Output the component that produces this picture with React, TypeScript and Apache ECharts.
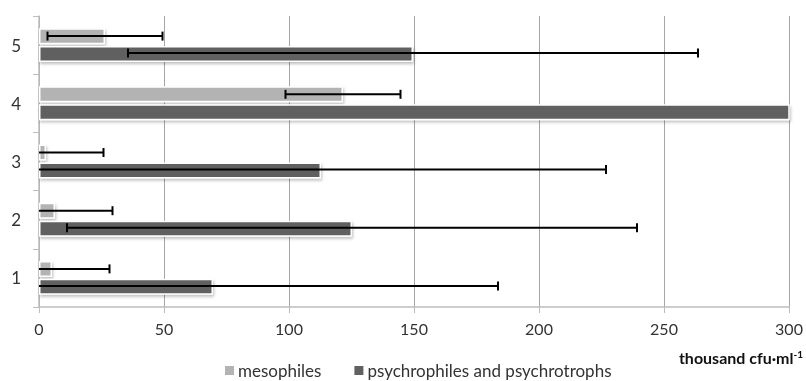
import React, { useEffect, useRef } from "react";
import * as echarts from "echarts";

const categories = ["1", "2", "3", "4", "5"];
const mesophiles = [5.2, 6.4, 2.8, 121.6, 26.4];
const mesophilesErr = [23, 23, 23, 23, 23];
const psychro = [69.6, 125.2, 112.8, 305, 149.6];
const psychroErr = [114, 114, 114, 0, 114];
const xTicks = [0, 50, 100, 150, 200, 250, 300];

const FONT = "Lato, 'Open Sans', sans-serif";

function errorSeries(name: string, means: number[], errs: number[], offset: number) {
  return {
    type: "custom",
    name: name + "_err",
    silent: true,
    z: 10,
    data: means.map((m, i) => [i, m, errs[i]]),
    renderItem: (params: any, api: any) => {
      const idx = api.value(0);
      const mean = api.value(1);
      const err = api.value(2);
      if (!err) return null;
      const lo = Math.max(0, mean - err);
      const hi = Math.min(300, mean + err);
      const p0 = api.coord([lo, idx]);
      const p1 = api.coord([hi, idx]);
      const y = p0[1] + offset;
      const cap = 4.5;
      const children: any[] = [
        { type: "line", shape: { x1: p0[0], y1: y, x2: p1[0], y2: y }, style: { stroke: "#000", lineWidth: 2 } },
      ];
      if (mean - err > 0) {
        children.push({ type: "line", shape: { x1: p0[0], y1: y - cap, x2: p0[0], y2: y + cap }, style: { stroke: "#000", lineWidth: 2 } });
      }
      if (mean + err < 300) {
        children.push({ type: "line", shape: { x1: p1[0], y1: y - cap, x2: p1[0], y2: y + cap }, style: { stroke: "#000", lineWidth: 2 } });
      }
      return { type: "group", children };
    },
  };
}

export default function App() {
  const ref = useRef<HTMLDivElement>(null);
  useEffect(() => {
    if (!ref.current) return;
    const chart = echarts.init(ref.current, null, { renderer: "svg" });
    const barStyle = (color: string) => ({
      color,
      borderColor: "#ffffff",
      borderWidth: 1.5,
      shadowColor: "rgba(0,0,0,0.25)",
      shadowBlur: 3,
      shadowOffsetX: 1,
      shadowOffsetY: 2,
    });
    chart.setOption({
      animation: false,
      textStyle: { fontFamily: FONT },
      grid: { left: 39, right: 17, top: 16, bottom: 74 },
      legend: {
        data: ["mesophiles", "psychrophiles and psychrotrophs"],
        top: 357,
        left: 218,
        itemWidth: 11,
        itemHeight: 11,
        itemGap: 31,
        icon: "rect",
        textStyle: { fontSize: 17, color: "#333", fontFamily: FONT, padding: [0, 0, 0, -2] },
      },
      xAxis: {
        type: "value",
        min: 0,
        max: 300,
        interval: 50,
        name: "{a|thousand cfu·ml}{b|-1}",
        nameLocation: "end",
        nameGap: 0,
        nameTextStyle: {
          rich: {
            a: { fontSize: 16, fontWeight: "bold", color: "#111", fontFamily: FONT },
            b: { fontSize: 10, fontWeight: "bold", color: "#111", fontFamily: FONT, verticalAlign: "top", padding: [0, 0, 7, 0] },
          },
          align: "right",
          verticalAlign: "top",
          padding: [42, -14, 0, 0],
        },
        axisLine: { show: true, lineStyle: { color: "#bdbdbd", width: 1.5 } },
        axisTick: { show: true, length: 6, lineStyle: { color: "#bdbdbd" } },
        axisLabel: {
          color: "#333",
          fontSize: 16,
          margin: 13,
          formatter: (v: number) => (xTicks.includes(v) ? String(v) : ""),
        },
        splitLine: { show: true, lineStyle: { color: "#a6a6a6", width: 1 } },
      },
      yAxis: {
        type: "category",
        data: categories,
        axisLine: { show: true, lineStyle: { color: "#bdbdbd", width: 1.5 } },
        axisTick: { show: true, length: 6, lineStyle: { color: "#bdbdbd" } },
        axisLabel: { color: "#333", fontSize: 17, margin: 18 },
      },
      series: [
        {
          type: "bar",
          name: "mesophiles",
          data: mesophiles,
          barWidth: 16,
          barGap: "12%",
          itemStyle: barStyle("#b3b3b3"),
          clip: true,
        },
        {
          type: "bar",
          name: "psychrophiles and psychrotrophs",
          data: psychro,
          barWidth: 16,
          barGap: "12%",
          itemStyle: barStyle("#616161"),
          clip: true,
        },
        errorSeries("mesophiles", mesophiles, mesophilesErr, -9),
        errorSeries("psychro", psychro, psychroErr, 8),
      ],
    });
    return () => chart.dispose();
  }, []);
  return <div ref={ref} style={{ position: "fixed", left: 0, top: 0, width: 806, height: 381 }} />;
}
